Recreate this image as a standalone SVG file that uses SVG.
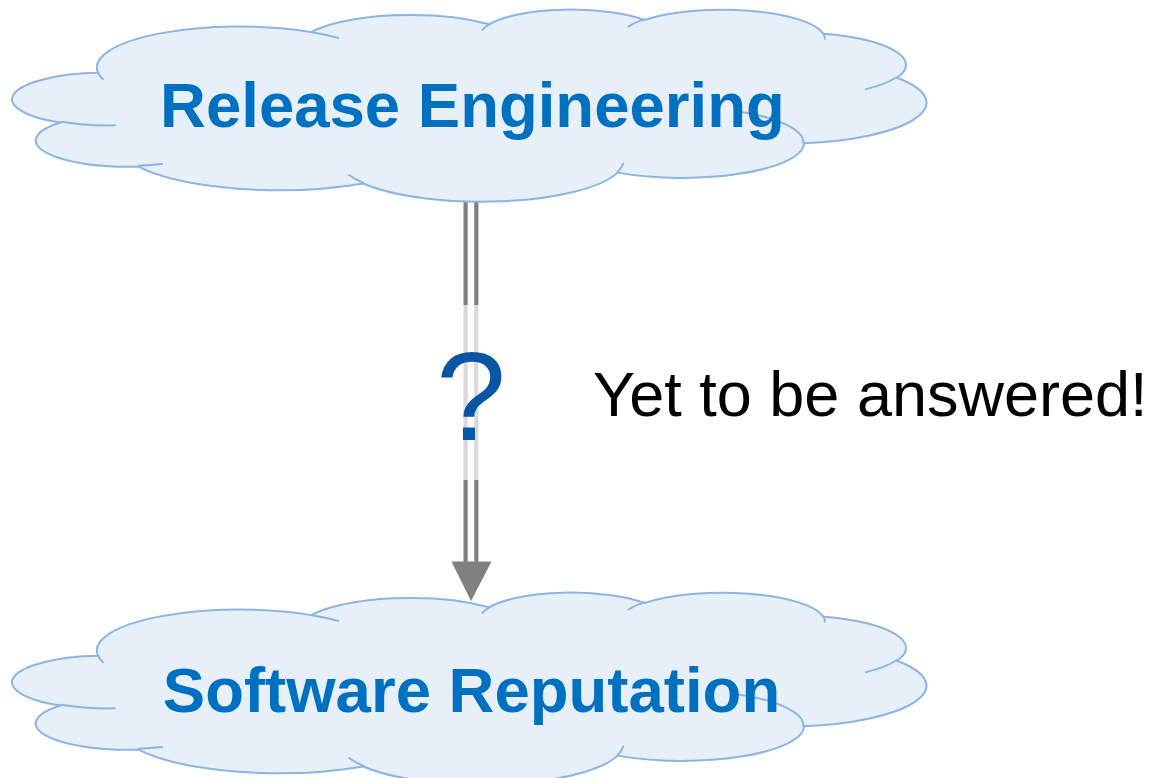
<svg xmlns="http://www.w3.org/2000/svg" xmlns:xlink="http://www.w3.org/1999/xlink" width="1159" height="778" viewBox="0 0 1159 778">
<style>
.cloud{fill:#E7EFF9;stroke:#8DB4E2;stroke-width:2;stroke-linejoin:round}
.inner{fill:none;stroke:#8DB4E2;stroke-width:2;stroke-linecap:round}
.title{font-family:"Liberation Sans",Arial,sans-serif;font-weight:bold;font-size:63.5px;fill:#0070C0;text-anchor:middle}
.dk{stroke:#808080;stroke-width:4.2}
.lt{stroke:#D9D9D9;stroke-width:4.2}
.q{font-family:"Liberation Sans",Arial,sans-serif;font-size:126px;fill:#0B56A4;text-anchor:middle}
.note{font-family:"Liberation Sans",Arial,sans-serif;font-size:63px;fill:#000000}
</style>
<defs>
<path id="cloudOutline" d="M98.15,72.87 A142.25,40.84 0 0 1 311.02,32.12 A112.34,32.30 0 0 1 489.07,24.26 A91.95,26.42 0 0 1 644.47,20.03 A102.31,29.31 0 0 1 823.21,33.78 A112.34,32.32 0 0 1 896.94,77.71 A142.72,40.98 0 0 1 803.96,143.24 A121.86,34.96 0 0 1 617.57,172.62 A142.23,40.96 0 0 1 363.21,183.51 A162.62,46.86 0 0 1 138.34,166.66 A91.84,26.30 0 0 1 60.55,122.57 A91.53,26.42 0 0 1 98.15,72.87 Z"/>
<path id="cloudInner" d="M114.86,125.34 A91.53,26.42 0 0 1 61.50,121.80 M161.94,164.11 A91.84,26.30 0 0 1 138.60,165.80 M363.11,182.73 A142.23,40.96 0 0 1 349.03,175.00 M623.24,163.45 A142.23,40.96 0 0 1 617.63,171.93 M734.93,111.02 A121.86,34.96 0 0 1 803.42,142.73 M896.48,77.24 A112.34,32.32 0 0 1 865.97,89.13 M823.30,33.12 A102.31,29.31 0 0 1 824.90,38.73 M628.53,26.56 A102.31,29.31 0 0 1 644.16,19.40 M482.40,29.98 A91.95,26.42 0 0 1 489.97,23.80 M310.91,32.08 A142.25,40.84 0 0 1 338.28,38.06 M102.94,79.17 A142.25,40.84 0 0 1 98.15,72.87"/>
</defs>
<g id="connectors">
<line class="dk" x1="465.6" y1="199" x2="465.6" y2="305"/>
<line class="dk" x1="476.3" y1="199" x2="476.3" y2="305"/>
<line class="lt" x1="465.6" y1="305" x2="465.6" y2="480"/>
<line class="lt" x1="476.3" y1="305" x2="476.3" y2="480"/>
<line class="dk" x1="465.6" y1="480" x2="465.6" y2="562"/>
<line class="dk" x1="476.3" y1="480" x2="476.3" y2="562"/>
<polygon points="451.5,561.5 491.5,561.5 471,601" fill="#808080"/>
<text class="q" x="471" y="440">?</text>
</g>
<g id="node-release-engineering">
<use xlink:href="#cloudOutline" class="cloud"/>
<use xlink:href="#cloudInner" class="inner"/>
<text class="title" x="472.4" y="127">Release Engineering</text>
</g>
<g id="node-software-reputation" transform="translate(0,583)">
<use xlink:href="#cloudOutline" class="cloud"/>
<use xlink:href="#cloudInner" class="inner"/>
<text class="title" x="471.5" y="129">Software Reputation</text>
</g>
<g id="note">
<text class="note" x="593" y="416">Yet to be answered!</text>
</g>
</svg>
